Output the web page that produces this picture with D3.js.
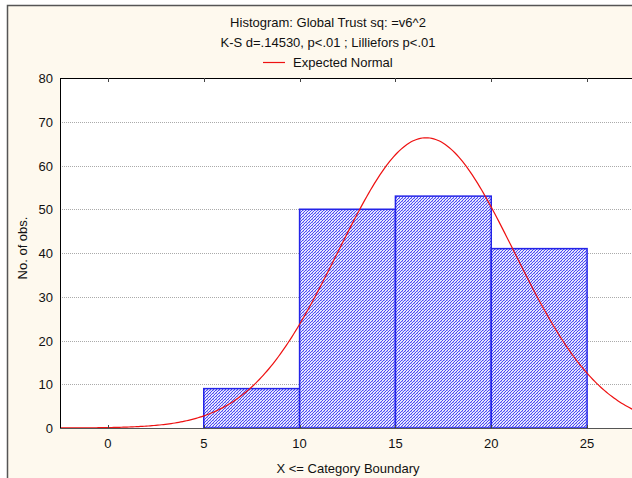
<!DOCTYPE html>
<html><head><meta charset="utf-8">
<script src="https://cdn.jsdelivr.net/npm/d3@7"></script>
<style>body{margin:0;background:#fff}svg{display:block;font-family:"Liberation Sans",Arial,sans-serif}</style>
</head><body>
<script>
const binStarts = [0, 5, 10, 15, 20];
const binEnds   = [5, 10, 15, 20, 25];
const counts    = [0, 9, 50, 53, 41];
const yTicks = [0, 10, 20, 30, 40, 50, 60, 70, 80];
const xTicks = [0, 5, 10, 15, 20, 25];
const titleLines = ["Histogram: Global Trust sq: =v6^2", "K-S d=.14530, p<.01 ; Lilliefors p<.01"];
const legendLabel = "Expected Normal";
// Expected normal parameters
const normMean = 16.6, normSD = 4.6, normN = 153, binWidth = 5;

const W = 632, H = 478;
const FS = 13;
const svg = d3.select("body").append("svg").attr("width", W).attr("height", H);

// frame
svg.append("rect").attr("x", 7.5).attr("y", 5.5).attr("width", W).attr("height", H).attr("fill", "#fef9ee").attr("stroke", "#555").attr("stroke-width", 1.5);

const m = {l: 60, t: 78, r: 635, b: 428};
const x = d3.scaleLinear().domain([-2.5, 27.5]).range([m.l, m.r]);
const y = d3.scaleLinear().domain([0, 80]).range([m.b, m.t]);

const defs = svg.append("defs");
const pat = defs.append("pattern").attr("id", "hatch").attr("patternUnits", "userSpaceOnUse").attr("width", 3).attr("height", 3);
pat.append("rect").attr("width", 3).attr("height", 3).attr("fill", "#e6e6ff");
pat.append("rect").attr("x", 0).attr("y", 2).attr("width", 1).attr("height", 1).attr("fill", "#4a4af2");
pat.append("rect").attr("x", 1).attr("y", 1).attr("width", 1).attr("height", 1).attr("fill", "#4a4af2");
pat.append("rect").attr("x", 2).attr("y", 0).attr("width", 1).attr("height", 1).attr("fill", "#4a4af2");
pat.append("rect").attr("x", 0).attr("y", 0).attr("width", 1).attr("height", 1).attr("fill", "#a8a8fa");
defs.append("clipPath").attr("id", "clip").append("rect").attr("x", m.l).attr("y", m.t).attr("width", m.r - m.l).attr("height", m.b - m.t + 1);

// plot background
svg.append("rect").attr("x", m.l).attr("y", m.t).attr("width", m.r - m.l).attr("height", m.b - m.t).attr("fill", "#fff");

// grid
svg.append("g").selectAll("line").data(yTicks.filter(d => d > 0 && d < 80)).join("line")
  .attr("x1", m.l).attr("x2", m.r).attr("y1", d => Math.round(y(d)) + 0.5).attr("y2", d => Math.round(y(d)) + 0.5)
  .attr("stroke", "#aaa").attr("stroke-width", 1).attr("stroke-dasharray", "1,1");

// bars
const bins = binStarts.map((s, i) => ({s, e: binEnds[i], c: counts[i]}));
svg.append("g").selectAll("rect").data(bins.filter(d => d.c > 0)).join("rect")
  .attr("x", d => x(d.s)).attr("y", d => y(d.c)).attr("width", d => x(d.e) - x(d.s)).attr("height", d => y(0) - y(d.c))
  .attr("fill", "url(#hatch)").attr("stroke", "#2424e8").attr("stroke-width", 1.5);

// normal curve
const pdf = v => normN * binWidth / (normSD * Math.sqrt(2 * Math.PI)) * Math.exp(-0.5 * ((v - normMean) / normSD) ** 2);
const xs = d3.range(-2.5, 27.6, 0.1);
svg.append("path").datum(xs).attr("clip-path", "url(#clip)")
  .attr("d", d3.line().x(d => x(d)).y(d => y(pdf(d))))
  .attr("fill", "none").attr("stroke", "#ee1111").attr("stroke-width", 1.2);

// axes lines
svg.append("line").attr("x1", m.l).attr("x2", m.r).attr("y1", m.t + 0.5).attr("y2", m.t + 0.5).attr("stroke", "#000");
svg.append("line").attr("x1", m.l + 0.5).attr("x2", m.l + 0.5).attr("y1", m.t).attr("y2", m.b).attr("stroke", "#000");
svg.append("line").attr("x1", m.l).attr("x2", m.r).attr("y1", m.b + 0.5).attr("y2", m.b + 0.5).attr("stroke", "#555");

// x ticks (top & bottom)
const gx = svg.append("g");
xTicks.forEach(t => {
  const xp = Math.round(x(t)) + 0.5;
  gx.append("line").attr("x1", xp).attr("x2", xp).attr("y1", m.t).attr("y2", m.t + 4).attr("stroke", "#444");
  gx.append("line").attr("x1", xp).attr("x2", xp).attr("y1", m.b - 3).attr("y2", m.b).attr("stroke", "#444");
  gx.append("text").attr("x", x(t)).attr("y", m.b + 20).attr("text-anchor", "middle").attr("font-size", FS).attr("fill", "#111").text(t);
});
// y tick labels
svg.append("g").selectAll("text").data(yTicks).join("text")
  .attr("x", m.l - 7).attr("y", d => y(d) + 5).attr("text-anchor", "end").attr("font-size", FS).attr("fill", "#111").text(d => d);

// axis titles
svg.append("text").attr("x", 348).attr("y", 473).attr("text-anchor", "middle").attr("font-size", FS).attr("fill", "#111").text("X <= Category Boundary");
svg.append("text").attr("transform", "translate(27,248) rotate(-90)").attr("text-anchor", "middle").attr("font-size", FS).attr("fill", "#111").text("No. of obs.");

// titles
titleLines.forEach((t, i) => svg.append("text").attr("x", 328).attr("y", 27 + i * 20).attr("text-anchor", "middle").attr("font-size", FS).attr("fill", "#111").text(t));
// legend
svg.append("line").attr("x1", 263).attr("x2", 285).attr("y1", 62.5).attr("y2", 62.5).attr("stroke", "#ee1111").attr("stroke-width", 1.2);
svg.append("text").attr("x", 293).attr("y", 67).attr("font-size", FS).attr("fill", "#111").text(legendLabel);
</script>
</body></html>
